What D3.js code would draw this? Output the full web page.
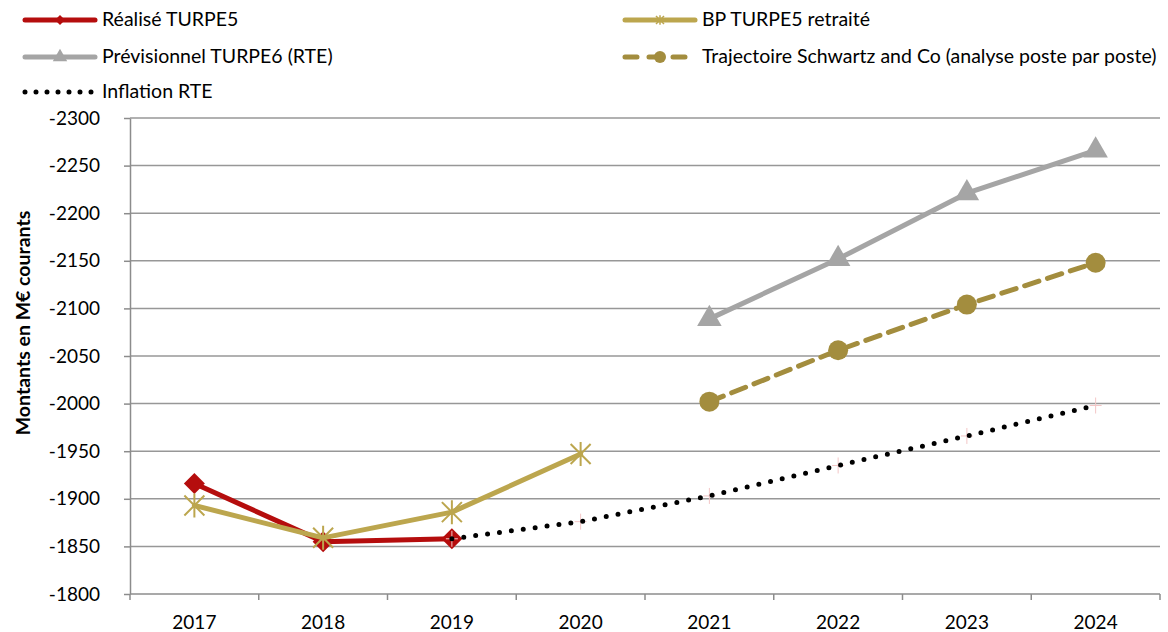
<!DOCTYPE html>
<html>
<head>
<meta charset="utf-8">
<script src="https://cdn.jsdelivr.net/npm/d3@7"></script>
<style>
  body { margin: 0; background: #fff; }
  svg text { font-family: Lato, "Open Sans", sans-serif; fill: #000; }
</style>
</head>
<body>
<svg width="1168" height="632"></svg>
<script>
// data
var years = ["2017", "2018", "2019", "2020", "2021", "2022", "2023", "2024"];
var realise = [-1916, -1855, -1858, null, null, null, null, null];
var bpTurpe5 = [-1893, -1859, -1886, -1947, null, null, null, null];
var previsionnel = [null, null, null, null, -2089, -2152, -2221, -2266];
var schwartz = [null, null, null, null, -2002, -2056, -2104, -2148];
var inflation = [null, null, -1858, -1876, -1903, -1935, -1966, -1998];
var yTicks = [-2300, -2250, -2200, -2150, -2100, -2050, -2000, -1950, -1900, -1850, -1800];

var svg = d3.select("svg"),
    plotLeft = 130, plotRight = 1160, plotTop = 118, plotBottom = 594,
    fontSize = 19;

var x = d3.scaleBand().domain(years).range([plotLeft, plotRight]).padding(0);
var y = d3.scaleLinear().domain([-1800, -2300]).range([plotBottom, plotTop]);

// gridlines
svg.append("g")
  .selectAll("line")
  .data(yTicks.slice(0, -1))
  .enter().append("line")
    .attr("x1", plotLeft).attr("x2", plotRight)
    .attr("y1", function(d) { return y(d); })
    .attr("y2", function(d) { return y(d); })
    .attr("stroke", "#979797")
    .attr("stroke-width", 1.5);

// y axis
var yAxis = svg.append("g")
  .attr("transform", "translate(" + plotLeft + ",0)")
  .call(d3.axisLeft(y).tickValues(yTicks).tickSize(6).tickSizeOuter(0).tickPadding(24)
    .tickFormat(function(d) { return d; }));
yAxis.selectAll("line").attr("stroke", "#8c8c8c").attr("stroke-width", 1.5);
yAxis.select(".domain").attr("stroke", "#8c8c8c").attr("stroke-width", 1.5);
yAxis.selectAll("text").attr("font-size", fontSize).style("font-family", "Lato, sans-serif");

// x axis, ticks between categories
var xAxis = svg.append("g")
  .attr("transform", "translate(0," + plotBottom + ")");
xAxis.append("line")
  .attr("x1", plotLeft).attr("x2", plotRight)
  .attr("stroke", "#8c8c8c").attr("stroke-width", 1.5);
xAxis.selectAll(".tk")
  .data(years.concat(["end"]))
  .enter().append("line")
    .attr("class", "tk")
    .attr("x1", function(d, i) { return plotLeft + i * x.bandwidth(); })
    .attr("x2", function(d, i) { return plotLeft + i * x.bandwidth(); })
    .attr("y1", 0).attr("y2", 6)
    .attr("stroke", "#8c8c8c").attr("stroke-width", 1.5);
xAxis.selectAll("text")
  .data(years)
  .enter().append("text")
    .attr("x", function(d) { return x(d) + x.bandwidth() / 2; })
    .attr("y", 35)
    .attr("text-anchor", "middle")
    .attr("font-size", fontSize)
    .text(function(d) { return d; });

// y title
svg.append("text")
  .attr("transform", "translate(30,323) rotate(-90)")
  .attr("text-anchor", "middle")
  .attr("font-size", 19.5)
  .attr("font-weight", "bold")
  .text("Montants en M€ courants");

function cx(i) { return x(years[i]) + x.bandwidth() / 2; }

var line = d3.line()
  .defined(function(d) { return d != null; })
  .x(function(d, i) { return cx(i); })
  .y(function(d) { return y(d); });

var starPath = function(s) {
  return "M" + (-s) + "," + (-s) + "L" + s + "," + s +
         "M" + (-s) + "," + s + "L" + s + "," + (-s) +
         "M0," + (-s * 1.2) + "L0," + (s * 1.2);
};

var series = [
  { name: "Réalisé TURPE5", values: realise, color: "#B50D0D", width: 5, dash: null, marker: "diamond" },
  { name: "BP TURPE5 retraité", values: bpTurpe5, color: "#BCA64E", width: 5, dash: null, marker: "star" },
  { name: "Prévisionnel TURPE6 (RTE)", values: previsionnel, color: "#A5A5A5", width: 5, dash: null, marker: "triangle" },
  { name: "Trajectoire Schwartz and Co (analyse poste par poste)", values: schwartz, color: "#A38D3E", width: 5, dash: "15,9", marker: "circle" },
  { name: "Inflation RTE", values: inflation, color: "#000", width: 5, dash: "0,12", marker: "plus" }
];

function drawMarker(g, type, color, big) {
  if (type === "diamond") {
    g.append("path").attr("d", d3.symbol(d3.symbolSquare, big ? 220 : 50)())
      .attr("fill", color).attr("transform", "rotate(45)");
  } else if (type === "star") {
    g.append("path").attr("d", starPath(big ? 10 : 4))
      .attr("stroke", color).attr("stroke-width", big ? 2 : 1.5).attr("fill", "none");
  } else if (type === "triangle") {
    g.append("path").attr("d", d3.symbol(d3.symbolTriangle, big ? 260 : 90)())
      .attr("fill", color);
  } else if (type === "circle") {
    g.append("circle").attr("r", big ? 10 : 6).attr("fill", color);
  } else if (type === "plus" && big) {
    g.append("path").attr("d", "M-6,0L6,0M0,-8L0,8")
      .attr("stroke", "#f3c6c6").attr("stroke-width", 1);
  }
}

series.forEach(function(s) {
  var g = svg.append("g");
  if (s.marker === "plus") {
    s.values.forEach(function(v, i) {
      if (v == null) return;
      var m = g.append("g").attr("transform", "translate(" + cx(i) + "," + y(v) + ")");
      drawMarker(m, s.marker, s.color, true);
    });
  }
  g.append("path")
    .datum(s.values)
    .attr("d", line)
    .attr("fill", "none")
    .attr("stroke", s.color)
    .attr("stroke-width", s.width)
    .attr("stroke-linecap", "round")
    .attr("stroke-linejoin", "round")
    .attr("stroke-dasharray", s.dash);
  if (s.marker !== "plus") {
    s.values.forEach(function(v, i) {
      if (v == null) return;
      var m = g.append("g").attr("transform", "translate(" + cx(i) + "," + y(v) + ")");
      drawMarker(m, s.marker, s.color, true);
    });
  }
});

// legend
var legendPos = [[25, 20], [625, 20], [25, 57], [625, 57], [25, 92]];
series.forEach(function(s, i) {
  var lg = svg.append("g").attr("transform", "translate(" + legendPos[i][0] + "," + legendPos[i][1] + ")");
  lg.append("line")
    .attr("x1", 0).attr("x2", 70)
    .attr("stroke", s.color)
    .attr("stroke-width", s.width)
    .attr("stroke-linecap", "round")
    .attr("stroke-dasharray", s.marker === "plus" ? "0,11" : (s.dash ? "12,12" : null));
  var m = lg.append("g").attr("transform", "translate(35,0)");
  drawMarker(m, s.marker, s.color, false);
  lg.append("text")
    .attr("x", 77).attr("y", 6)
    .attr("font-size", 19.5)
    .text(s.name);
});
</script>
</body>
</html>
